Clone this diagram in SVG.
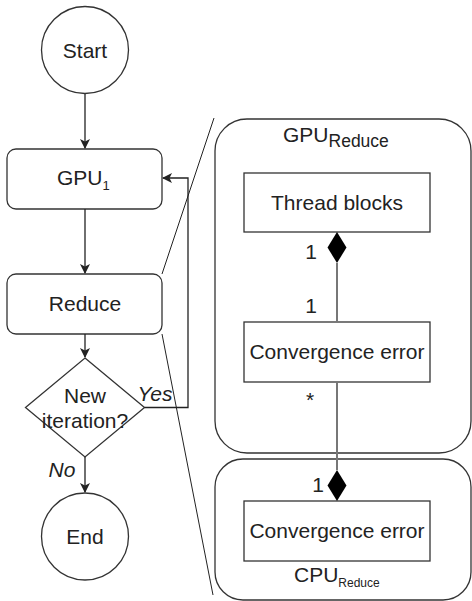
<svg xmlns="http://www.w3.org/2000/svg" width="472" height="601" viewBox="0 0 472 601">
<defs>
<style>
.n{fill:#fff;stroke:#333;stroke-width:1.3}
.t{font-family:"Liberation Sans",Arial,sans-serif;font-size:21px;fill:#222;text-anchor:middle}
.s{text-anchor:start}
.e{stroke:#222;stroke-width:1.3;fill:none}
.u{stroke:#777;stroke-width:2;fill:none}
.z{stroke:#222;stroke-width:1;fill:none}
</style>
<marker id="a" viewBox="0 0 10 10" refX="9" refY="5" markerWidth="10" markerHeight="10" markerUnits="userSpaceOnUse" orient="auto">
<path d="M0,0 L10,5 L0,10 L2.5,5 z" fill="#222"/>
</marker>
</defs>
<g id="gpureduce">
<rect class="n" x="215" y="119" width="256" height="334" rx="32"/>
<text class="t s" x="283" y="142">GPU<tspan font-size="17.5" dy="5">Reduce</tspan></text>
</g>
<g id="cpureduce">
<rect class="n" x="215" y="459" width="256" height="141" rx="28"/>
<text class="t s" x="294" y="582">CPU<tspan font-size="12" dy="5">Reduce</tspan></text>
</g>
<g id="start"><circle class="n" cx="85" cy="50" r="43.5"/><text class="t" x="85" y="58">Start</text></g>
<g id="gpu1"><rect class="n" x="7" y="149" width="155" height="60" rx="9"/><text class="t s" x="57" y="185">GPU<tspan font-size="13" dy="5">1</tspan></text></g>
<g id="reduce"><rect class="n" x="7" y="274" width="155" height="60" rx="9"/><text class="t" x="85" y="311">Reduce</text></g>
<g id="decision"><polygon class="n" points="85,358 144.5,407.5 85,457 25.5,407.5"/><text class="t" x="85" y="403">New</text><text class="t" x="85" y="428">iteration?</text></g>
<g id="end"><circle class="n" cx="85" cy="536.5" r="43.5"/><text class="t" x="85" y="544">End</text></g>
<g id="threadblocks"><rect class="n" x="244" y="173" width="186" height="59"/><text class="t" x="337" y="210">Thread blocks</text></g>
<g id="ce1"><rect class="n" x="244" y="322" width="186" height="60"/><text class="t" x="337" y="359">Convergence error</text></g>
<g id="ce2"><rect class="n" x="244" y="501" width="186" height="60"/><text class="t" x="337" y="538">Convergence error</text></g>
<g id="connectors">
<line class="e" x1="85" y1="94" x2="85" y2="148" marker-end="url(#a)"/>
<line class="e" x1="85" y1="209" x2="85" y2="273" marker-end="url(#a)"/>
<line class="e" x1="85" y1="334" x2="85" y2="357" marker-end="url(#a)"/>
<line class="e" x1="85" y1="457" x2="85" y2="492" marker-end="url(#a)"/>
<polyline class="e" points="144.5,407.5 188,407.5 188,178 163,178" marker-end="url(#a)"/>
<text class="t" x="155" y="401" font-style="italic">Yes</text>
<text class="t" x="62" y="477" font-style="italic">No</text>
<line class="z" x1="162" y1="274" x2="214" y2="118"/>
<line class="z" x1="162" y1="334" x2="213" y2="595"/>
<line class="u" x1="337" y1="263" x2="337" y2="322"/>
<polygon points="337,232 346.5,247.5 337,263 327.5,247.5" fill="#000"/>
<text class="t" x="311" y="259">1</text>
<text class="t" x="311" y="313">1</text>
<line class="u" x1="337" y1="382" x2="337" y2="470"/>
<polygon points="337,470 346.5,485.5 337,501 327.5,485.5" fill="#000"/>
<text class="t" x="310" y="407">*</text>
<text class="t" x="318" y="492">1</text>
</g>
</svg>
